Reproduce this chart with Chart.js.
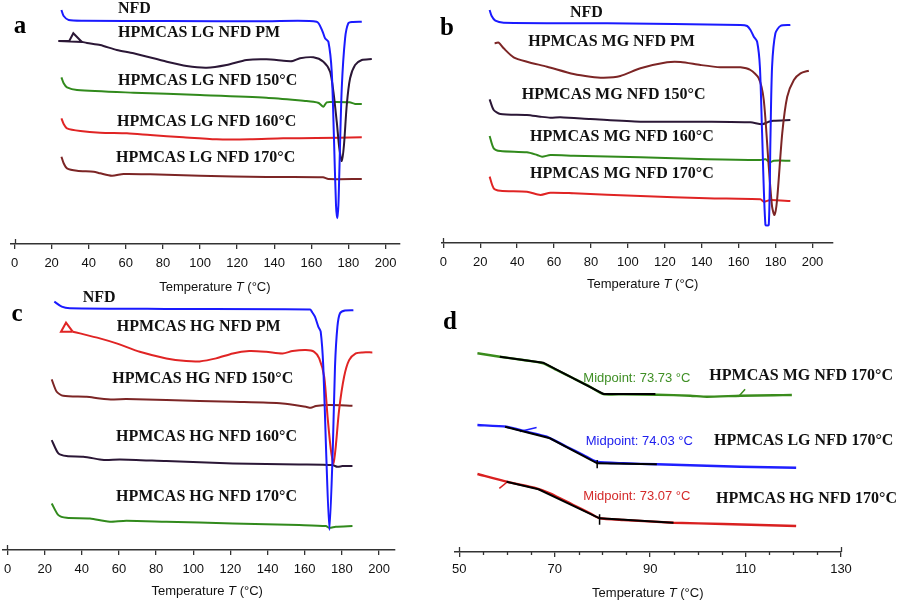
<!DOCTYPE html>
<html><head><meta charset="utf-8">
<script src="https://cdn.jsdelivr.net/npm/chart.js@4.4.1/dist/chart.umd.min.js"></script>
<style>
html,body{margin:0;padding:0;background:#fff;}
body{width:902px;height:603px;position:relative;overflow:hidden;}
canvas{position:absolute;}
.lt{position:absolute;font:bold 25px "Liberation Serif","Times New Roman",serif;color:#000;transform:translate(-50%,-50%);line-height:1;}
</style></head><body>
<canvas id="ca"></canvas><canvas id="cb"></canvas><canvas id="cc"></canvas><canvas id="cd"></canvas>
<div class="lt" style="left:20px;top:24px">a</div>
<div class="lt" style="left:447px;top:26px">b</div>
<div class="lt" style="left:17px;top:312px">c</div>
<div class="lt" style="left:450px;top:320px">d</div>
<script>
// ---------- tick labels ----------
const ticksABC = [0,20,40,60,80,100,120,140,160,180,200];
const ticksD = [50,55,60,65,70,75,80,85,90,95,100,105,110,115,120,125,130];
const ticksDLabelled = [50,70,90,110,130];

// ---------- series names ----------
const aNames = ['NFD','HPMCAS LG NFD PM','HPMCAS LG NFD 150°C','HPMCAS LG NFD 160°C','HPMCAS LG NFD 170°C'];
const bNames = ['NFD','HPMCAS MG NFD PM','HPMCAS MG NFD 150°C','HPMCAS MG NFD 160°C','HPMCAS MG NFD 170°C'];
const cNames = ['NFD','HPMCAS HG NFD PM','HPMCAS HG NFD 150°C','HPMCAS HG NFD 160°C','HPMCAS HG NFD 170°C'];
const dNames = ['HPMCAS MG NFD 170°C','HPMCAS LG NFD 170°C','HPMCAS HG NFD 170°C'];
const dMidpoints = ['Midpoint: 73.73 °C','Midpoint: 74.03 °C','Midpoint: 73.07 °C'];

// ---------- panel a : [T (°C), heat flow (a.u., offset)] ----------
const aNFD = [[25.3,23.3],[26.5,22.7],[29.2,22.3],[37.3,22.23],[82,22.2],[135.8,22.17],[162.9,22.13],[166.1,21.13],[167.4,20.47],[169.2,20.13],[171.0,17.13],[172.2,10.5],[173.3,3.8],[174.0,2.47],[174.6,3.8],[175.1,7.13],[176.4,15.47],[178.2,20.47],[179.9,21.97],[181.9,22.1],[187.2,22.13]];
const aPMhook = [[36.5,20.1],[23.6,20.2],[29.5,20.2],[31.7,20.97],[36.2,20.12]];
const aPM = [[36.2,20.12],[39.1,20.0],[46.2,19.8],[55.1,19.3],[64.2,18.97],[82.1,18.13],[92.8,17.7],[103.6,17.53],[114.3,17.8],[125.1,18.3],[135.8,18.37],[146.6,18.2],[150,18.2],[153.9,18.47],[161.1,18.57],[166.5,18.13],[170.1,17.13],[171.9,15.13],[173.7,12.13],[175.1,9.47],[176.4,8.2],[177.6,9.8],[179.1,13.8],[180.9,16.47],[183.6,17.8],[187.2,18.3],[192.6,18.4]];
const a150 = [[25.3,16.57],[26.5,15.97],[28.3,15.57],[33.7,15.3],[64.2,15.03],[100,14.8],[135.8,14.53],[157.4,14.2],[161,14.13],[164,14.0],[166.5,13.63],[168.3,14.07],[171.7,14.1],[180.6,14.07],[183.6,13.9],[187.2,13.9]];
const a160 = [[25.3,12.47],[26.5,11.9],[28.3,11.47],[35.5,11.2],[46.2,11.03],[60.6,10.97],[73.1,10.8],[91,10.57],[108.9,10.37],[126.9,10.37],[144.8,10.47],[162.7,10.5],[187.2,10.57]];
const a170 = [[25.3,8.63],[26.5,7.97],[28.3,7.47],[33.7,7.23],[42.7,7.13],[46.2,6.97],[52.5,6.73],[58.8,6.9],[73.1,6.87],[100,6.73],[135.8,6.6],[166.3,6.57],[169.2,6.4],[187.2,6.4]];

// ---------- panel b ----------
const bNFD = [[25.1,23.2],[26.2,22.6],[28.2,22.13],[32.7,21.93],[88.7,21.87],[161,21.7],[164.6,21.6],[166.4,21.2],[168.2,20.53],[170,20.03],[171.5,17.53],[172.7,10.87],[174.5,1.7],[176.3,1.7],[177.2,10.2],[178.1,17.53],[179.9,20.87],[182.6,21.6],[188,21.7]];
const bPM = [[27.8,19.87],[30,19.93],[32.7,19.37],[38.1,18.47],[45.3,18.03],[56.2,17.53],[70.6,16.8],[79.7,16.53],[86.9,16.43],[95.9,16.6],[106.8,17.37],[121.2,17.97],[128.5,18],[139.3,17.7],[150.1,17.47],[161,17.47],[166.4,17.2],[170.9,16.37],[173.6,14.2],[176.3,7.53],[178.1,3.53],[179.4,2.7],[180.8,4.2],[183.6,10.87],[186.3,14.53],[189.9,16.2],[193.5,16.87],[198,17.13]];
const b150 = [[25.1,14.27],[27.3,13.2],[30.9,12.8],[45.3,12.7],[52.6,12.53],[58,12.43],[63.4,12.47],[79.7,12.3],[106.8,12.03],[142.9,12.03],[166.4,11.97],[172.7,11.77],[176.3,12.03],[179,12.13],[188,12.2]];
const b160 = [[25.1,10.6],[27.3,9.37],[30.9,9.1],[45.3,8.97],[50.8,8.7],[53.5,8.53],[58,8.7],[70.6,8.63],[106.8,8.47],[142.9,8.27],[171.8,8.2],[174.5,8.27],[176.9,7.97],[179,8.13],[188,8.13]];
const b170 = [[25.1,6.53],[27.3,5.37],[30.9,5.13],[45.3,5.03],[52.6,4.7],[58,4.93],[70.6,4.87],[106.8,4.6],[142.9,4.37],[171.8,4.27],[173.6,4.03],[177.2,4.2],[188,4.1]];

// ---------- panel c ----------
const cNFD = [[25.2,24.78],[29.2,24.28],[33.6,24.12],[85,24.05],[162.9,24.0],[163.8,23.78],[165.5,23.28],[167.3,22.28],[168.6,21.78],[170,18.28],[171.5,9.95],[173.3,1.95],[175.1,9.95],[176.3,18.28],[177.6,22.28],[179,23.62],[181.7,23.88],[186.2,23.92]];
const cPMhook = [[35.1,21.77],[28.8,21.77],[31.5,22.67],[35.1,21.77]];
const cPM = [[35.1,21.77],[39,21.6],[49.7,21.1],[58.7,20.6],[71.2,19.76],[85.5,19.1],[96.2,18.83],[103.4,18.8],[112.3,19.1],[121.3,19.6],[130.2,19.83],[139.2,19.76],[148.1,19.6],[153.5,19.83],[160.6,19.93],[165.1,19.76],[167.8,19.1],[170.5,17.26],[172.3,13.26],[174.1,9.93],[175.5,8.6],[176.7,10.26],[178.5,13.93],[181.2,17.26],[183.9,18.93],[187.5,19.6],[191.1,19.7],[196.4,19.7]];
const c150 = [[23.8,17],[26.5,15.76],[30,15.36],[42.6,15.26],[49.7,15.1],[56.9,15],[64,15.03],[85.5,14.93],[121.3,14.76],[148.1,14.6],[160.6,14.26],[163.3,14.16],[166,14.33],[173.2,14.43],[185.7,14.36]];
const c160 = [[23.8,10.93],[27.4,9.6],[31.8,9.33],[40.8,9.26],[49.7,9],[53.3,8.93],[60.5,9],[85.5,8.83],[121.3,8.6],[157,8.5],[174.9,8.43],[177.6,8.26],[180.3,8.33],[185.7,8.33]];
const c170 = [[23.8,4.6],[27.4,3.43],[31.8,3.16],[44.4,3.1],[51.5,2.86],[55.1,2.76],[64,2.86],[85.5,2.76],[121.3,2.6],[157,2.43],[171.4,2.33],[173.2,2.16],[176.7,2.26],[185.7,2.33]];

// ---------- panel d (glass transition region) ----------
const dMG = [[53.8,19.9],[58.5,19.56],[63.4,19.23],[67.6,18.9],[70.4,18.23],[73.9,17.4],[77.4,16.56],[80.2,15.83],[84.4,15.8],[91.4,15.76],[98.4,15.66],[101.9,15.56],[108.9,15.66],[115.9,15.7],[119.7,15.73]];
const dMGfit = [[58.5,19.56],[67.6,18.96],[80.2,15.83],[91.1,15.83]];
const dMGmark = [[108.5,15.56],[109.9,16.3]];
const dLG = [[53.8,12.73],[59.9,12.56],[64.1,12.06],[68.3,11.56],[72.5,10.56],[76,9.73],[78.8,9.06],[84.4,8.9],[91.4,8.8],[101.9,8.66],[108.9,8.56],[120.6,8.46]];
const dLGfit = [[59.6,12.56],[69,11.4],[78.9,8.9],[91.4,8.8]];
const dLGtick = [[78.9,9.23],[78.9,8.4]];
const dLGmark = [[62.7,12.07],[66.2,12.47]];
const dHG = [[53.8,7.83],[59.9,7.06],[66.2,6.4],[69,5.9],[73.9,4.73],[77.4,3.9],[79.4,3.4],[84.4,3.23],[94.9,2.96],[105.4,2.83],[120.6,2.63]];
const dHGfit = [[59.9,7.06],[66.6,6.3],[79.4,3.4],[94.9,2.96]];
const dHGtick = [[79.4,3.8],[79.4,2.75]];
const dHGmark = [[58.4,6.4],[60.3,7.13]];

// ---------- styles ----------
const BLUE='#1a1aff', PURPLE='#2b1736', GREEN='#318a1c', RED='#e02424', BROWN='#7c2525', BLACK='#000';
const LBL='bold 16px "Liberation Serif","Times New Roman",serif';
const MID='13px "Liberation Sans",Arial,sans-serif';
const AXIS_H = 52;

function pts(arr){ return arr.map(p=>({x:p[0],y:p[1]})); }
function ds(arr,color,w,tension){ return {data:pts(arr),borderColor:color,borderWidth:w||2,showLine:true,pointRadius:0,fill:false,tension:tension===undefined?0.25:tension}; }

function textPlugin(cfg){
  return {id:'panelText',afterDatasetsDraw(chart){
    const ctx=chart.ctx, xs=chart.scales.x, ys=chart.scales.y;
    const base=chart.chartArea.bottom;
    ctx.save();
    ctx.strokeStyle='#333'; ctx.lineWidth=1.3;
    cfg.ticks.forEach(v=>{
      const px=Math.round(xs.getPixelForValue(v))+0.5;
      if(!cfg.labelled.includes(v)){ ctx.beginPath(); ctx.moveTo(px,base); ctx.lineTo(px,base+3); ctx.stroke(); }
      if(cfg.cross.includes(v)){ ctx.beginPath(); ctx.moveTo(px,base-5); ctx.lineTo(px,base); ctx.stroke(); }
    });
    cfg.labels.forEach(l=>{
      ctx.font=l.font; ctx.fillStyle=l.color; ctx.textAlign='left'; ctx.textBaseline='middle';
      ctx.fillText(l.t, xs.getPixelForValue(l.x), ys.getPixelForValue(l.y));
    });
    const parts=[['Temperature ','13px "Liberation Sans",Arial,sans-serif'],['T','italic 13px "Liberation Sans",Arial,sans-serif'],[' (°C)','13px "Liberation Sans",Arial,sans-serif']];
    let tw=0; parts.forEach(p=>{ctx.font=p[1]; tw+=ctx.measureText(p[0]).width;});
    let x=xs.getPixelForValue(cfg.titleX)-tw/2; const y=base+cfg.titleOff;
    ctx.fillStyle='#111'; ctx.textBaseline='middle'; ctx.textAlign='left';
    parts.forEach(p=>{ctx.font=p[1]; ctx.fillText(p[0],x,y); x+=ctx.measureText(p[0]).width;});
    ctx.restore();
  }};
}

function panel(cfg){
  const cv=document.getElementById(cfg.id);
  cv.width=cfg.w; cv.height=cfg.h;
  Object.assign(cv.style,{left:cfg.left+'px',top:cfg.top+'px',width:cfg.w+'px',height:cfg.h+'px'});
  const [aL,aT,aR,aB]=cfg.area;
  new Chart(cv,{
    type:'scatter',
    data:{datasets:cfg.datasets},
    options:{
      responsive:false, devicePixelRatio:1, animation:false, events:[],
      layout:{padding:{left:aL-cfg.left,right:cfg.left+cfg.w-aR,top:aT-cfg.top,bottom:cfg.top+cfg.h-aB-AXIS_H}},
      plugins:{legend:{display:false},tooltip:{enabled:false}},
      scales:{
        x:{type:'linear',min:cfg.x[0],max:cfg.x[1],
          afterBuildTicks:s=>{s.ticks=cfg.ticks.map(v=>({value:v}));},
          afterFit:s=>{s.height=AXIS_H;},
          ticks:{autoSkip:false,maxRotation:0,minRotation:0,padding:cfg.tickPad,color:'#111',
            font:{family:'"Liberation Sans",Arial,sans-serif',size:13},
            callback:v=>cfg.labelled.includes(v)?String(v):''},
          grid:{display:true,drawOnChartArea:false,drawTicks:true,tickLength:5,lineWidth:1.3,
            tickColor:c=>(c.tick&&cfg.labelled.includes(c.tick.value))?'#333':'rgba(0,0,0,0)'},
          border:{display:true,color:'#333',width:1.6}},
        y:{display:false,min:cfg.y[0],max:cfg.y[1]}
      }
    },
    plugins:[textPlugin(cfg)]
  });
}

panel({id:'ca',left:-10,top:0,w:450,h:300,area:[11,0,400,244],x:[-1.89,207.8],y:[-0.1,24.3],
  ticks:ticksABC,labelled:ticksABC,cross:[0],tickPad:7,titleX:108,titleOff:43,
  datasets:[ds(aNFD,BLUE),ds(aPMhook,PURPLE,2,0),ds(aPM,PURPLE),ds(a150,GREEN),ds(a160,RED),ds(a170,BROWN)],
  labels:[{t:aNames[0],x:55.8,y:23.37,font:LBL,color:'#111'},{t:aNames[1],x:55.8,y:21.0,font:LBL,color:'#111'},
    {t:aNames[2],x:55.8,y:16.2,font:LBL,color:'#111'},{t:aNames[3],x:55.3,y:12.1,font:LBL,color:'#111'},
    {t:aNames[4],x:54.7,y:8.5,font:LBL,color:'#111'}]});

panel({id:'cb',left:430,top:0,w:472,h:300,area:[442,0,833,243],x:[-0.7,211.1],y:[-0.1,24.2],
  ticks:ticksABC,labelled:ticksABC,cross:[0],tickPad:7,titleX:108,titleOff:41,
  datasets:[ds(bNFD,BLUE),ds(bPM,BROWN),ds(b150,PURPLE),ds(b160,GREEN),ds(b170,RED)],
  labels:[{t:bNames[0],x:68.6,y:22.87,font:LBL,color:'#111'},{t:bNames[1],x:46.0,y:20.03,font:LBL,color:'#111'},
    {t:bNames[2],x:42.5,y:14.7,font:LBL,color:'#111'},{t:bNames[3],x:47.0,y:10.53,font:LBL,color:'#111'},
    {t:bNames[4],x:47.0,y:6.8,font:LBL,color:'#111'}]});

panel({id:'cc',left:-12,top:285,w:452,h:318,area:[3,285,395,550],x:[-2.42,208.6],y:[-0.06,26.44],
  ticks:ticksABC,labelled:ticksABC,cross:[0],tickPad:7,titleX:107.5,titleOff:41,
  datasets:[ds(cNFD,BLUE),ds(cPMhook,RED,2,0),ds(cPM,RED),ds(c150,BROWN),ds(c160,PURPLE),ds(c170,GREEN)],
  labels:[{t:cNames[0],x:40.5,y:25.11,font:LBL,color:'#111'},{t:cNames[1],x:58.8,y:22.27,font:LBL,color:'#111'},
    {t:cNames[2],x:56.4,y:17.01,font:LBL,color:'#111'},{t:cNames[3],x:58.4,y:11.27,font:LBL,color:'#111'},
    {t:cNames[4],x:58.4,y:5.21,font:LBL,color:'#111'}]});

panel({id:'cd',left:440,top:285,w:462,h:318,area:[455,285,841,552],x:[49.1,130],y:[0.03,26.73],
  ticks:ticksD,labelled:ticksDLabelled,cross:[50,130],tickPad:5,titleX:89.5,titleOff:41,
  datasets:[ds(dMGfit,BLACK,2,0),ds(dLGfit,BLACK,2,0),ds(dHGfit,BLACK,2,0),ds(dLGtick,BLACK,1.5,0),ds(dHGtick,BLACK,1.5,0),
    ds(dMG,'#3a8c1c',2.4,0.2),ds(dMGmark,'#3a8c1c',1.5,0),ds(dLG,'#1f1fff',2.4,0.2),ds(dLGmark,'#1f1fff',1.5,0),
    ds(dHG,'#d92020',2.4,0.2),ds(dHGmark,'#d92020',1.5,0)],
  labels:[{t:dMidpoints[0],x:76.0,y:17.4,font:MID,color:'#3f8f25'},{t:dNames[0],x:102.4,y:17.66,font:LBL,color:'#111'},
    {t:dMidpoints[1],x:76.5,y:11.13,font:MID,color:'#2020ee'},{t:dNames[1],x:103.4,y:11.13,font:LBL,color:'#111'},
    {t:dMidpoints[2],x:76.0,y:5.56,font:MID,color:'#d42a2a'},{t:dNames[2],x:103.8,y:5.3,font:LBL,color:'#111'}]});
</script>
</body></html>
